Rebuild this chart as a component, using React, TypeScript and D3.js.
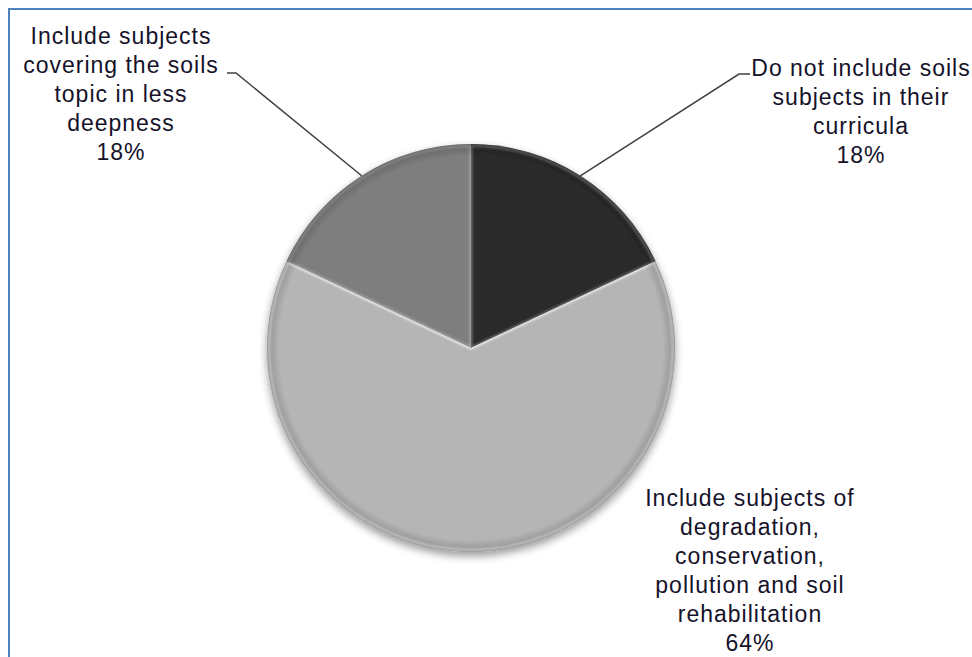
import React from "react";
import * as d3 from "d3";

const categories = [
  "Do not include soils subjects in their curricula",
  "Include subjects of degradation, conservation, pollution and soil rehabilitation",
  "Include subjects covering the soils topic in less deepness",
];
const values = [18, 64, 18];
const labelLines = [
  ["Do not include soils", "subjects in their", "curricula", "18%"],
  ["Include subjects of", "degradation,", "conservation,", "pollution and soil", "rehabilitation", "64%"],
  ["Include subjects", "covering the soils", "topic in less", "deepness", "18%"],
];
const colors = ["#2b2b2b", "#b5b5b5", "#7e7e7e"];

const W = 972;
const H = 657;
const cx = 471;
const cy = 348;
const R = 204;

const labelPos = [
  { x: 861, y: 76 },
  { x: 750, y: 506 },
  { x: 121, y: 44 },
];
const lineH = 29;

export default function App() {
  const pie = d3
    .pie<number>()
    .sort(null)
    .value((d) => d)
    .startAngle(0)
    .endAngle(2 * Math.PI);
  const arcs = pie(values);
  const arc = d3.arc<d3.PieArcDatum<number>>().innerRadius(0).outerRadius(R);
  const arcInner = d3.arc<d3.PieArcDatum<number>>().innerRadius(0).outerRadius(R - 1.5);

  const rimPoint = (a: d3.PieArcDatum<number>) => {
    const m = (a.startAngle + a.endAngle) / 2;
    return [cx + R * Math.sin(m), cy - R * Math.cos(m)];
  };

  const leaders = [
    { idx: 0, pts: [[750, 74], [739, 74]] },
    { idx: 2, pts: [[227, 73], [236, 73]] },
  ].map((l) => {
    const p = rimPoint(arcs[l.idx]);
    return [...l.pts, p];
  });

  return (
    <svg
      width={W}
      height={H}
      style={{ position: "absolute", left: 0, top: 0, background: "#fff" }}
      fontFamily="'Liberation Sans', Arial, sans-serif"
    >
      <defs>
        <filter id="shadow" x="-20%" y="-20%" width="140%" height="150%">
          <feGaussianBlur in="SourceAlpha" stdDeviation="4" />
          <feOffset dx="0" dy="4" result="ob" />
          <feComponentTransfer>
            <feFuncA type="linear" slope="0.4" />
          </feComponentTransfer>
          <feMerge>
            <feMergeNode />
            <feMergeNode in="SourceGraphic" />
          </feMerge>
        </filter>
        <filter id="soft" x="-10%" y="-10%" width="120%" height="120%">
          <feGaussianBlur stdDeviation="1.2" />
        </filter>
        <radialGradient id="rim" cx={cx} cy={cy} r={R} gradientUnits="userSpaceOnUse">
          <stop offset="0.94" stopColor="#000" stopOpacity="0" />
          <stop offset="0.985" stopColor="#000" stopOpacity="0.15" />
          <stop offset="1" stopColor="#000" stopOpacity="0.3" />
        </radialGradient>
        {arcs.map((a, i) => (
          <clipPath key={i} id={"clip" + i}>
            <path d={arc(a) || ""} transform={`translate(${cx},${cy})`} />
          </clipPath>
        ))}
      </defs>

      <rect x={9} y={9} width={W + 20} height={H + 20} fill="none" stroke="#4f81bd" strokeWidth={2} />

      <g filter="url(#shadow)">
        {arcs.map((a, i) => (
          <path key={i} d={arc(a) || ""} fill={colors[i]} transform={`translate(${cx},${cy})`} />
        ))}
        {arcs.map((a, i) => (
          <g key={"h" + i} clipPath={`url(#clip${i})`}>
            <path
              d={arcInner(a) || ""}
              transform={`translate(${cx},${cy})`}
              fill="none"
              stroke="#ffffff"
              strokeOpacity={i === 1 ? 0.75 : 0.3}
              strokeWidth={3}
              filter="url(#soft)"
            />
          </g>
        ))}
        <circle cx={cx} cy={cy} r={R} fill="url(#rim)" />
      </g>

      {leaders.map((pts, i) => (
        <polyline
          key={i}
          points={pts.map((p) => p.join(",")).join(" ")}
          fill="none"
          stroke="#404040"
          strokeWidth={1.5}
        />
      ))}

      {labelLines.map((lines, i) => (
        <text
          key={i}
          x={labelPos[i].x}
          y={labelPos[i].y}
          textAnchor="middle"
          fontSize={23}
          letterSpacing={1}
          fill="#15122a"
        >
          {lines.map((ln, j) => (
            <tspan key={j} x={labelPos[i].x} y={labelPos[i].y + j * lineH}>
              {ln}
            </tspan>
          ))}
        </text>
      ))}
      <title>{categories.join("; ")}</title>
    </svg>
  );
}
